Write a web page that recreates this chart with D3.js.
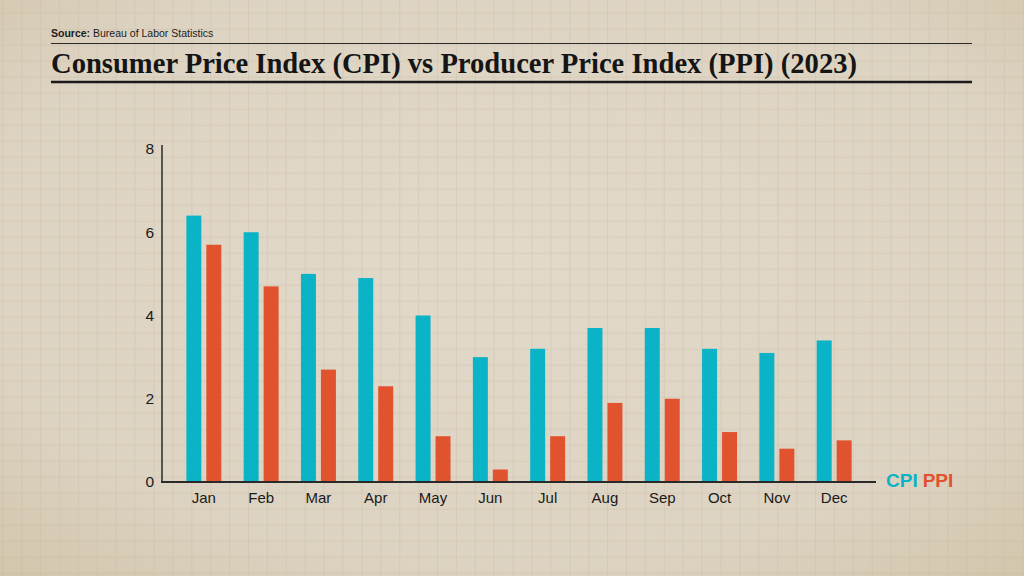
<!DOCTYPE html>
<html>
<head>
<meta charset="utf-8">
<script src="https://cdn.jsdelivr.net/npm/d3@7"></script>
<style>
  html, body { margin: 0; padding: 0; width: 1024px; height: 576px; overflow: hidden; background: #ddd4c4; }
  svg { display: block; }
</style>
</head>
<body>
<svg id="chart" width="1024" height="576"></svg>
<script>
const months = ["Jan","Feb","Mar","Apr","May","Jun","Jul","Aug","Sep","Oct","Nov","Dec"];
const cpiValues = [6.4, 6.0, 5.0, 4.9, 4.0, 3.0, 3.2, 3.7, 3.7, 3.2, 3.1, 3.4];
const ppiValues = [5.7, 4.7, 2.7, 2.3, 1.1, 0.3, 1.1, 1.9, 2.0, 1.2, 0.8, 1.0];
const seriesNames = ["CPI", "PPI"];
const yTicks = [0, 2, 4, 6, 8];
const titleText = "Consumer Price Index (CPI) vs Producer Price Index (PPI) (2023)";
const sourceLabel = "Source:";
const sourceText = " Bureau of Labor Statistics";

const colors = { CPI: "#0bb3c6", PPI: "#e1522e" };
const W = 1024, H = 576;
const svg = d3.select("#chart");
const sans = "'Liberation Sans', Arial, sans-serif";

// paper background
const defs = svg.append("defs");
const rg = defs.append("radialGradient").attr("id", "paper").attr("cx", "50%").attr("cy", "45%").attr("r", "75%");
rg.append("stop").attr("offset", "0%").attr("stop-color", "#e1d9ca");
rg.append("stop").attr("offset", "70%").attr("stop-color", "#ddd3c2");
rg.append("stop").attr("offset", "100%").attr("stop-color", "#d2c5ab");
svg.append("rect").attr("width", W).attr("height", H).attr("fill", "url(#paper)");

// paper grid
const grid = svg.append("g").attr("stroke", "#c7b99f").attr("stroke-width", 0.7).attr("opacity", 0.45);
const gx = d3.range(2.8, W, 18.9);
const gy = d3.range(13.3, H, 16.0);
grid.selectAll("line.v").data(gx).join("line").attr("class", "v")
  .attr("x1", d => d).attr("x2", d => d).attr("y1", 0).attr("y2", H);
grid.selectAll("line.h").data(gy).join("line").attr("class", "h")
  .attr("y1", d => d).attr("y2", d => d).attr("x1", 0).attr("x2", W);

// header
const hdr = svg.append("g");
const src = hdr.append("text").attr("x", 51).attr("y", 37)
  .attr("font-family", sans).attr("font-size", 10.5).attr("fill", "#1c1c1c");
src.append("tspan").attr("font-weight", 700).text(sourceLabel);
src.append("tspan").attr("font-weight", 400).text(sourceText);
hdr.append("line").attr("x1", 51).attr("x2", 972).attr("y1", 43.5).attr("y2", 43.5).attr("stroke", "#2a2a2a").attr("stroke-width", 1);
const title = hdr.append("text").attr("x", 51).attr("y", 73)
  .attr("font-family", "'Liberation Serif', 'DejaVu Serif', serif").attr("font-weight", 700)
  .attr("font-size", 30).attr("fill", "#151515").text(titleText);
title.attr("textLength", 806).attr("lengthAdjust", "spacingAndGlyphs");
hdr.append("line").attr("x1", 51).attr("x2", 972).attr("y1", 82).attr("y2", 82).attr("stroke", "#1a1a1a").attr("stroke-width", 2.5);

// scales
const x0 = d3.scaleBand().domain(months).range([162, 876]).paddingInner(0.39).paddingOuter(0.425);
const x1 = d3.scaleBand().domain(seriesNames).range([0, x0.bandwidth()]).paddingInner(0.25).paddingOuter(0);
const y = d3.scaleLinear().domain([0, 8]).range([482, 149]);

const data = months.map((m, i) => ({ month: m, CPI: cpiValues[i], PPI: ppiValues[i] }));

// bars
const groups = svg.append("g").selectAll("g").data(data).join("g")
  .attr("transform", d => `translate(${x0(d.month)},0)`);
groups.selectAll("rect").data(d => seriesNames.map(k => ({ key: k, value: d[k] }))).join("rect")
  .attr("x", d => x1(d.key)).attr("width", x1.bandwidth())
  .attr("y", d => y(d.value)).attr("height", d => y(0) - y(d.value))
  .attr("fill", d => colors[d.key]);

// y axis
const yAxis = svg.append("g").attr("transform", "translate(162,0)")
  .call(d3.axisLeft(y).tickValues(yTicks).tickSize(0).tickPadding(8).tickFormat(d3.format("d")));
yAxis.select(".domain").remove();
yAxis.selectAll("text").attr("font-family", sans).attr("font-size", 15.5).attr("fill", "#1a1a1a");
svg.append("line").attr("x1", 162).attr("x2", 162).attr("y1", 145).attr("y2", 482.5).attr("stroke", "#2a2a2a").attr("stroke-width", 1.5);

// x axis
const xAxis = svg.append("g").attr("transform", "translate(0,482)")
  .call(d3.axisBottom(x0).tickSize(0).tickPadding(10));
xAxis.select(".domain").remove();
xAxis.selectAll("text").attr("font-family", sans).attr("font-size", 15).attr("fill", "#1a1a1a");
svg.append("line").attr("x1", 161).attr("x2", 876).attr("y1", 482).attr("y2", 482).attr("stroke", "#2a2a2a").attr("stroke-width", 2);

// legend
const leg = svg.append("text").attr("x", 886).attr("y", 487)
  .attr("font-family", sans).attr("font-weight", 700).attr("font-size", 19);
seriesNames.forEach((k, i) => {
  leg.append("tspan").attr("fill", colors[k]).attr("dx", i ? 5 : 0).text(k);
});
</script>
</body>
</html>
